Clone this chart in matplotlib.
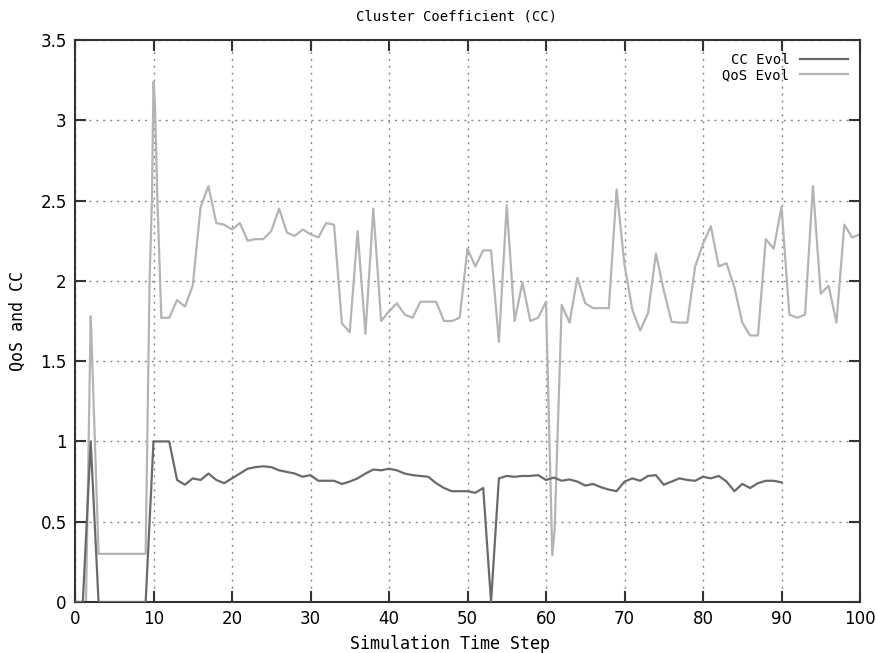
import matplotlib
matplotlib.use("Agg")
import matplotlib.pyplot as plt
from matplotlib.ticker import FormatStrFormatter, MultipleLocator

# CC Evol: one sample per time step, 0..90
cc_x = list(range(0, 91))
cc_y = [0.0, 0.0, 1.0, 0.0, 0.0, 0.0, 0.0, 0.0, 0.0, 0.0,
        1.0, 1.0, 1.0, 0.76, 0.73, 0.77, 0.76, 0.80, 0.76, 0.74,
        0.77, 0.80, 0.83, 0.84, 0.845, 0.84, 0.82, 0.81, 0.80, 0.78,
        0.79, 0.755, 0.755, 0.755, 0.735, 0.75, 0.77, 0.80, 0.825, 0.82,
        0.83, 0.82, 0.80, 0.79, 0.785, 0.78, 0.74, 0.71, 0.69, 0.69,
        0.69, 0.68, 0.71, 0.0, 0.77, 0.785, 0.78, 0.785, 0.785, 0.79,
        0.76, 0.775, 0.755, 0.763, 0.75, 0.725, 0.735, 0.715, 0.70, 0.69,
        0.75, 0.77, 0.755, 0.785, 0.79, 0.73, 0.75, 0.77, 0.76, 0.755,
        0.78, 0.77, 0.785, 0.75, 0.69, 0.735, 0.71, 0.74, 0.755, 0.755,
        0.745]

# QoS Evol: a few sub-step samples around the jumps
qos_x = [0, 1.4, 2, 2.1, 3, 4, 5, 6, 7, 8, 9, 9.5, 9.8, 10, 10.2, 10.5,
         11, 12, 13, 14, 15, 16, 17, 18, 19, 20,
         21, 22, 23, 24, 25, 26, 27, 28, 29, 30,
         31, 32, 33, 34, 35, 36, 37, 38, 39, 40,
         41, 42, 43, 44, 45, 46, 47, 48, 49, 50,
         51, 52, 53, 54, 55, 56, 57, 58, 59, 60, 60.8, 61.1,
         62, 63, 64, 65, 66, 67, 68, 69, 70,
         71, 72, 73, 74, 75, 76, 77, 78, 79, 80,
         81, 82, 83, 84, 85, 86, 87, 88, 89, 90,
         91, 92, 93, 94, 95, 96, 97, 98, 99, 100]
qos_y = [0.0, 0.0, 1.78, 1.65, 0.30, 0.30, 0.30, 0.30, 0.30, 0.30, 0.30, 2.0, 2.5, 3.24, 3.08, 2.5,
         1.77, 1.77, 1.88, 1.84, 1.97, 2.46, 2.59, 2.36, 2.35, 2.32,
         2.36, 2.25, 2.26, 2.26, 2.31, 2.45, 2.30, 2.28, 2.32, 2.29,
         2.27, 2.36, 2.35, 1.735, 1.68, 2.31, 1.67, 2.45, 1.75, 1.81,
         1.86, 1.79, 1.77, 1.87, 1.87, 1.87, 1.75, 1.75, 1.77, 2.20,
         2.09, 2.19, 2.19, 1.62, 2.47, 1.75, 1.99, 1.75, 1.77, 1.87, 0.29, 0.45,
         1.85, 1.74, 2.02, 1.86, 1.83, 1.83, 1.83, 2.57, 2.10,
         1.82, 1.69, 1.80, 2.17, 1.94, 1.745, 1.74, 1.74, 2.09, 2.23,
         2.34, 2.09, 2.11, 1.96, 1.74, 1.66, 1.66, 2.26, 2.20, 2.46,
         1.79, 1.77, 1.79, 2.59, 1.92, 1.97, 1.74, 2.35, 2.27, 2.29]

MONO = "DejaVu Sans Mono"
CC_COL = "#6a6a6a"
QOS_COL = "#b4b4b4"

fig = plt.figure(figsize=(8.77, 6.53), dpi=100)
ax = fig.add_axes([75 / 877, 51 / 653, 785 / 877, 562 / 653])

ax.plot(cc_x, cc_y, color=CC_COL, lw=1.6, label="CC Evol", zorder=3)
ax.plot(qos_x, qos_y, color=QOS_COL, lw=1.6, label="QoS Evol", zorder=2)

ax.set_xlim(0, 100)
ax.set_ylim(0, 3.5)
ax.xaxis.set_major_locator(MultipleLocator(10))
ax.yaxis.set_major_locator(MultipleLocator(0.5))
ax.yaxis.set_major_formatter(FormatStrFormatter("%g"))
ax.xaxis.set_major_formatter(FormatStrFormatter("%g"))

ax.grid(True, color="#8a8a8a", linestyle=(0, (1.5, 3.5)), linewidth=1.0, zorder=0)
ax.tick_params(direction="in", length=8, width=1.5, color="#333333",
               top=True, right=True, labelsize=12, pad=6)
for lbl in ax.get_xticklabels() + ax.get_yticklabels():
    lbl.set_family("DejaVu Sans")
for s in ax.spines.values():
    s.set_color("#333333")
    s.set_linewidth(1.5)

fig.text(456 / 877, 1 - 17 / 653, "Cluster Coefficient (CC)", family=MONO,
         fontsize=10, ha="center", va="center")
fig.text(450 / 877, 1 - 644 / 653, "Simulation Time Step", family=MONO,
         fontsize=12, ha="center", va="center")
fig.text(18 / 877, 1 - 321 / 653, "QoS and CC", family=MONO,
         fontsize=12, ha="center", va="center", rotation=90)

leg = ax.legend(loc="upper right", frameon=False, markerfirst=False,
                prop={"family": MONO, "size": 10}, handlelength=3.4,
                labelspacing=0.1, handletextpad=0.8,
                borderaxespad=0.3, borderpad=0.6)

fig.savefig("out.png", dpi=100)
